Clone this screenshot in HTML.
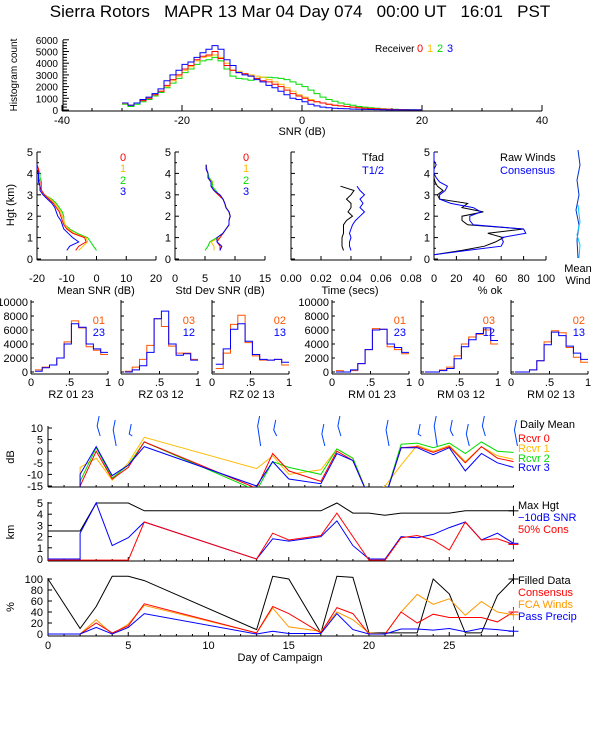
<!DOCTYPE html>
<html><head><meta charset="utf-8"><style>
body{margin:0;background:#fff}
svg{display:block;font-family:"Liberation Sans",sans-serif;font-size:11px}
</style></head><body>
<svg id="s" width="600" height="750" viewBox="0 0 600 750">
<rect width="600" height="750" fill="#fff"/>
<text x="300" y="17" font-size="17" text-anchor="middle" xml:space="preserve">Sierra Rotors   MAPR 13 Mar 04 Day 074   00:00 UT   16:01   PST</text>
<defs>
<clipPath id="cA"><rect x="48" y="420" width="466" height="67"/></clipPath>
<clipPath id="cB"><rect x="48" y="495" width="466" height="68"/></clipPath>
<clipPath id="cC"><rect x="48" y="570" width="466" height="68"/></clipPath>
</defs>
<g id="g" stroke-width="1"></g>
<g>
<text x="0" y="0" transform="translate(17,75) rotate(-90)" text-anchor="middle" font-size="10">Histogram count</text>
<text x="302" y="135" text-anchor="middle">SNR (dB)</text>
<text x="375" y="52" font-size="10">Receiver</text>
<text x="417" y="52" fill="#f00">0</text><text x="427" y="52" fill="#fb0">1</text><text x="437" y="52" fill="#0d0">2</text><text x="447" y="52" fill="#00f">3</text>
</g>
<g>
<text transform="translate(14,205) rotate(-90)" text-anchor="middle">Hgt (km)</text>
<text x="96" y="294" text-anchor="middle">Mean SNR (dB)</text>
<text x="220" y="294" text-anchor="middle">Std Dev SNR (dB)</text>
<text x="350" y="294" text-anchor="middle">Time (secs)</text>
<text x="490" y="294" text-anchor="middle">% ok</text>
<text x="120" y="161" fill="#f00">0</text><text x="120" y="172" fill="#fb0">1</text><text x="120" y="184" fill="#0d0">2</text><text x="120" y="195" fill="#00f">3</text>
<text x="243" y="161" fill="#f00">0</text><text x="243" y="172" fill="#fb0">1</text><text x="243" y="184" fill="#0d0">2</text><text x="243" y="195" fill="#00f">3</text>
<text x="362" y="161">Tfad</text><text x="362" y="174" fill="#00f">T1/2</text>
<text x="500" y="161">Raw Winds</text><text x="500" y="174" fill="#00f">Consensus</text>
<text x="578" y="272" text-anchor="middle">Mean</text><text x="578" y="284" text-anchor="middle">Wind</text>
</g>
<g>
<text transform="translate(14,457) rotate(-90)" text-anchor="middle">dB</text>
<text transform="translate(14,532) rotate(-90)" text-anchor="middle">km</text>
<text transform="translate(14,607) rotate(-90)" text-anchor="middle">%</text>
<text x="280" y="661" text-anchor="middle">Day of Campaign</text>
<text x="520" y="428">Daily Mean</text>
<text x="518" y="442" fill="#f00">Rcvr 0</text><text x="518" y="452" fill="#fb0">Rcvr 1</text><text x="518" y="462" fill="#0d0">Rcvr 2</text><text x="518" y="471" fill="#00f">Rcvr 3</text>
<text x="518" y="509">Max Hgt</text><text x="518" y="521" fill="#00f">−10dB SNR</text><text x="518" y="533" fill="#f00">50% Cons</text>
<text x="518" y="584">Filled Data</text><text x="518" y="596" fill="#f00">Consensus</text><text x="518" y="608" fill="#f90">FCA Winds</text><text x="518" y="620" fill="#00f">Pass Precip</text>
</g>
</svg>
<script>
const snrBinStart = -30;
const snrR0 = [600,400,600,800,1000,1300,1600,2100,2600,3000,3500,3800,4300,4600,4700,5000,4400,3800,3400,3200,3100,2900,2700,2500,2400,2200,2000,1700,1400,1200,1000,800,700,600,500,400,350,300,250,200,150,120,100,80,60,40,30,20,10,5];
const snrR1 = [550,400,600,800,1000,1300,1600,2000,2500,2900,3400,3700,4200,4500,4600,4700,4500,4000,3400,3300,3100,3000,2900,2800,2600,2400,2200,1900,1600,1300,1100,900,700,600,500,400,350,300,250,200,150,120,100,80,60,40,30,20,10,5];
const snrR2 = [500,300,500,700,900,1200,1500,1900,2300,2700,3200,3500,3900,4200,4300,4500,4200,3500,2900,2700,2650,2550,2700,2800,2800,2750,2700,2600,2400,2200,2000,1700,1400,1100,900,750,600,500,400,300,250,200,150,100,80,60,40,30,20,10];
const snrR3 = [600,400,600,900,1100,1400,1800,2500,3000,3400,3900,4100,4500,4900,5200,5500,5200,4300,3800,3200,3000,2900,2600,2400,2100,1900,1600,1300,1000,900,700,500,350,250,200,150,120,100,80,60,50,40,30,20,10,5,5,5,5,5];

const profHgt = [0.4,0.6,0.8,1.0,1.2,1.4,1.6,1.8,2.0,2.2,2.4,2.6,2.8,3.0,3.2,3.4,3.6,3.8,4.0,4.2,4.4];
const meanR0 = [-7,-6,-3.5,-4,-8,-10,-11,-11.5,-12,-12.5,-13.5,-14.5,-16,-17.5,-18.5,-19,-19,-19.5,-19.5,-19.5,-20];
const meanR1 = [-6,-4.5,-3,-3.5,-7.5,-9.5,-10.5,-11,-11.5,-12,-13,-14,-15.5,-17.5,-18.5,-19,-19,-19.5,-19.5,-19.5,-20];
const meanR2 = [0,-1,-2,-3,-6.5,-9,-10.5,-11,-11,-11.5,-12.5,-13.5,-15,-17.5,-18.5,-18.5,-18.5,-19,-19,-19.5,-20];
const meanR3 = [-10,-9,-6,-8,-9.5,-11,-11.5,-12,-13,-13.5,-14,-15,-16.5,-18,-19,-19,-19.5,-19.5,-19.5,-20,-20];
const sdR0 = [7.5,7.5,7,7.5,8,8.5,9,9,9.2,9,8.5,8.3,8,7.2,6.5,6,6,5.5,5.5,5.2,5.2];
const sdR1 = [6.5,6.5,6,7.5,8,8.5,9,9,9.2,9,8.5,8.3,8,7.2,6.5,6,6.2,5.5,5.5,5.2,5.2];
const sdR2 = [5,5.5,5.8,7,8,8.5,9,9,9.2,9,8.5,8.3,8,7.3,6.8,6.2,6.3,5.7,5.5,5.3,5.2];
const sdR3 = [7.5,7.8,7,7,8,8.5,9,9,9.2,9,8.5,8.3,8,7.5,6.5,6,6,5.5,5.5,5.2,5.2];
const timeHgt = [0.4,0.6,0.8,1.0,1.2,1.4,1.6,1.8,2.0,2.2,2.4,2.6,2.8,3.0,3.2,3.4];
const tfad = [.035,.034,.034,.034,.035,.035,.035,.037,.041,.038,.04,.04,.037,.04,.042,.033];
const thalf = [.04,.039,.039,.04,.039,.04,.041,.043,.046,.049,.046,.048,.046,.049,.046,.044];
const okHgt = [0.2,0.4,0.6,0.8,1.0,1.2,1.4,1.6,1.8,2.0,2.2,2.4,2.6,2.8,3.0,3.2,3.4,3.6,3.8,4.0,4.2,4.4,4.6,4.8,5.0];
const okCons = [0,30,60,62,60,82,80,35,32,32,42,35,15,5,5,10,12,5,2,0,0,2,0,0,0];
const okRaw = [0,25,45,55,62,48,80,30,25,25,44,25,30,5,3,8,3,1,0,0,0,0,0,0,0];

const corrTitles = ["RZ  01 23","RZ  03 12","RZ  02 13","RM  01 23","RM  03 12","RM  02 13"];
const corrLegA = ["01","03","02","01","03","02"];
const corrLegB = ["23","12","13","23","12","13"];
const corrRed = [
 [300,700,1000,2000,4300,7300,6300,3600,3100,2500],
 [100,700,1800,3800,7600,6500,3700,2700,2700,1800],
 [500,2700,6800,8100,4200,2300,1700,1700,1800,1000],
 [200,0,200,1200,3200,6200,6100,3600,3200,2600],
 [0,0,300,700,2300,4000,5000,5400,6000,4000],
 [0,0,300,1600,4300,5900,5600,3500,2100,1400]];
const corrBlue = [
 [100,600,1000,2000,4000,6900,6400,4000,3300,2800],
 [0,300,900,2800,7600,8700,4000,2400,2600,1700],
 [1100,3300,6100,6900,4400,2500,1800,1700,1800,1400],
 [0,0,300,1200,3200,6000,6100,4000,3500,2800],
 [0,0,200,500,1900,3600,4600,5500,6300,4500],
 [0,0,300,1600,3900,5700,5200,3700,2700,1800]];

const dbDays = [0,1,2,2,3,4,5,6,13,14,15,17,18,19,20,21,22,23,24,25,26,27,28,29];
const dbR0 = [-20,-20,-20,-15,0,-12,-7,4,-16,-1,-8.5,-13,0,-4,-20,-20,1.5,2,-0.5,2,-5,2,-3,-4.5];
const dbR1 = [-20,-20,-20,-7,-3,-12.5,-5,6,-7.5,-2,-10,-8,1,-3,-20,-15,-6,2.5,0,2.5,-4.5,2,-2,-3.5];
const dbR2 = [-20,-20,-20,-13,1.5,-11.5,-6,4,-17,-4.5,-7,-10,1,-3,-20,-20,3,3.5,1.5,3.5,-1,4,0,-0.5];
const dbR3 = [-20,-20,-20,-10,2,-10.5,-6,2,-15,-4.5,-12,-14,-1,-4,-20,-20,1.5,1.5,-1.5,1.5,-8.5,-1,-5,-7];

const kmDays = [0,2,2,3,4,5,6,13,14,15,17,18,19,20,21,22,23,24,25,26,27,28,29];
const kmMax = [2.5,2.5,2.5,5,5,5,4.3,4.3,4.3,4.3,4.3,5,4.1,4.1,3.9,4.1,4.1,4.1,4.1,4.3,4.3,4.3,4.3];
const kmSnr = [0,0,2.3,5,1.2,1.9,3.3,0,1.8,1.6,2.0,3.4,1.2,0,0,2.0,1.9,2.2,2.8,3.3,1.7,2.3,1.4];
const kmCons = [-0.1,-0.1,-0.1,-0.1,-0.1,-0.1,3.3,0,2.3,1.7,2.1,4.1,2,-0.1,-0.1,1.9,2.1,1.7,0.8,3.3,1.7,1.8,1.3];

const pctDays = [0,2,3,4,5,6,13,14,15,17,18,19,20,21,22,23,24,25,26,27,28,29];
const pctFill = [100,10,50,105,105,97,8,105,100,2,105,103,2,2,2,2,100,73,2,2,70,100];
const pctCons = [0,0,20,2,15,55,2,50,37,2,48,37,0,0,40,20,36,30,30,30,22,40];
const pctFca = [0,0,26,0,18,52,2,47,13,5,40,26,2,0,40,72,54,64,34,59,40,35];
const pctPrecip = [0,0,12,0,12,37,0,5,1,1,37,8,0,0,9,9,7,10,4,10,8,5];

const barbDays = [3,4,5,13,14,17,18,21,23,24,25,26,27,29];

const NS="http://www.w3.org/2000/svg";
const G=document.getElementById('g');
function mk(tag,attrs,parent){const e=document.createElementNS(NS,tag);for(const k in attrs)e.setAttribute(k,attrs[k]);(parent||G).appendChild(e);return e;}
function txt(x,y,s,anchor,fill){const e=mk('text',{x:x,y:y,'text-anchor':anchor||'middle',fill:fill||'#000'});e.textContent=s;return e;}
function ln(x1,y1,x2,y2,c){return mk('line',{x1:x1,y1:y1,x2:x2,y2:y2,stroke:c||'#000'});}
function poly(xs,ys,fx,fy,c,name,clip){
  const pts=xs.map((v,i)=>fx(v).toFixed(1)+','+fy(ys[i]).toFixed(1)).join(' ');
  const e=mk('polyline',{points:pts,fill:'none',stroke:c});
  if(clip)e.setAttribute('clip-path','url(#'+clip+')');
  
  
  return e;
}
function steps(start,w,vals,fx,fy,c,name){
  let d='';
  vals.forEach((v,i)=>{const a=fx(start+i*w),b=fx(start+(i+1)*w),y=fy(v);d+=(i?'L':'M')+a.toFixed(1)+','+y.toFixed(1)+'L'+b.toFixed(1)+','+y.toFixed(1);});
  const e=mk('path',{d:d,fill:'none',stroke:c});
  
  
  return e;
}

const hx=v=>302+v*6, hy=v=>110-v*0.0117;
ln(62,111,542,111);ln(63,40,63,111);
for(let v=0;v<=6000;v+=250){ln(63,hy(v),v%1000?67:69,hy(v));}
for(let v=0;v<=6000;v+=1000){const t=txt(58,hy(v)+4,String(v),'end');t.setAttribute('font-size','10');}
for(let v=-40;v<=40;v+=5){ln(hx(v),111,hx(v),v%20?108:105);}
for(let v=-40;v<=40;v+=20){txt(hx(v),124,String(v));}
steps(snrBinStart,1,snrR2,hx,hy,'#00dd00','snr-hist-rcvr2');
steps(snrBinStart,1,snrR1,hx,hy,'#ffbb00','snr-hist-rcvr1');
steps(snrBinStart,1,snrR0,hx,hy,'#ff0000','snr-hist-rcvr0');
steps(snrBinStart,1,snrR3,hx,hy,'#0000ff','snr-hist-rcvr3');

const py=h=>259-h*21.4;
function profAxes(x0,x1,lo,hi,ticks,fmt,ylab){
  ln(x0,152,x0,260);ln(x0,260,x1,260);
  for(let h=0;h<=5;h+=0.5){ln(x0,py(h),x0+(h%1?2:4),py(h));}
  if(ylab)for(let h=0;h<=5;h++)txt(x0-4,py(h)+4,String(h),'end');
  ticks.forEach(t=>{const x=x0+(t-lo)/(hi-lo)*(x1-x0);ln(x,260,x,256);txt(x,282,fmt(t));});
  return v=>x0+(v-lo)/(hi-lo)*(x1-x0);
}
const f1=profAxes(37,156,-20,20,[-20,-10,0,10,20],String,true);
poly(meanR2,profHgt,f1,py,'#00dd00','mean-snr-rcvr2');
poly(meanR1,profHgt,f1,py,'#ffbb00','mean-snr-rcvr1');
poly(meanR0,profHgt,f1,py,'#ff0000','mean-snr-rcvr0');
poly(meanR3,profHgt,f1,py,'#0000ff','mean-snr-rcvr3');
const f2=profAxes(175,265,0,15,[0,5,10,15],String,true);
poly(sdR2,profHgt,f2,py,'#00dd00','stddev-snr-rcvr2');
poly(sdR1,profHgt,f2,py,'#ffbb00','stddev-snr-rcvr1');
poly(sdR0,profHgt,f2,py,'#ff0000','stddev-snr-rcvr0');
poly(sdR3,profHgt,f2,py,'#0000ff','stddev-snr-rcvr3');
const f3=profAxes(291,411,0,0.08,[0,0.02,0.04,0.06,0.08],v=>v.toFixed(2),false);
poly(tfad,timeHgt,f3,py,'#000','tfad-profile');
poly(thalf,timeHgt,f3,py,'#0000ff','thalf-profile');
const f4=profAxes(434,546,0,100,[0,20,40,60,80,100],String,true);
poly(okRaw,okHgt,f4,py,'#000','raw-winds-pct');
poly(okCons,okHgt,f4,py,'#0000ff','consensus-pct');
const mw=mk('polyline',{points:'578,258 577,240 579,225 576,210 579,195 577,180 580,165 578,150',fill:'none',stroke:'#0033cc'});


const mw2=mk('polyline',{points:'579,258 580,245 577,235 580,222 578,205',fill:'none',stroke:'#00ccff'});



const cy=v=>372-v*0.007;
const cLefts=[31,121,212,332,421,511];
const cW=77;
cLefts.forEach((L,k)=>{
  const fx=v=>L+v*cW;
  ln(L,300,L,374);ln(L,374,L+cW,374);
  for(let v=0;v<=10000;v+=2000){ln(L,cy(v),L+3,cy(v));if(k===0||k===3)txt(L-3,cy(v)+4,String(v),'end');}
  [[0,'0'],[0.5,'.5'],[1,'1']].forEach(t=>{ln(fx(t[0]),374,fx(t[0]),371);txt(fx(t[0]),386,t[1]);});
  txt(L+40,398,corrTitles[k]);
  txt(L+74,324,corrLegA[k],'end','#ff5500');
  txt(L+74,336,corrLegB[k],'end','#0000ff');
  steps(0.05,0.095,corrRed[k],fx,cy,'#ff5500','corr-hist-red-'+k);
  steps(0.05,0.095,corrBlue[k],fx,cy,'#0000ff','corr-hist-blue-'+k);
});

const dx=d=>48+d*16.05;
const ya=v=>486-(v+15)*2.32, yb=v=>559-v*11.2, yc=v=>634-v*0.55;
function tsAxes(top,bot,yf,ticks){
  ln(48,top,48,bot);ln(48,bot,514,bot);
  ticks.forEach(t=>{ln(48,yf(t),52,yf(t));txt(43,yf(t)+4,String(t),'end');});
  for(let d=0;d<=29;d++)ln(dx(d),bot,dx(d),bot-(d%5?2:4));
}
tsAxes(426,487,ya,[10,5,0,-5,-10,-15]);
tsAxes(502,561,yb,[5,4,3,2,1,0]);
tsAxes(578,636,yc,[100,80,60,40,20,0]);
[0,5,10,15,20,25].forEach(d=>txt(dx(d),649,String(d)));
poly(dbDays,dbR1,dx,ya,'#ffbb00','daily-mean-rcvr1','cA');
poly(dbDays,dbR2,dx,ya,'#00dd00','daily-mean-rcvr2','cA');
poly(dbDays,dbR0,dx,ya,'#ff0000','daily-mean-rcvr0','cA');
poly(dbDays,dbR3,dx,ya,'#0000ff','daily-mean-rcvr3','cA');
poly(kmDays,kmMax,dx,yb,'#000','max-height-line','cB');
poly(kmDays,kmSnr,dx,yb,'#0000ff','snr-10db-height-line','cB');
poly(kmDays,kmCons,dx,yb,'#ff0000','cons-50pct-height-line','cB');
poly(pctDays,pctFill,dx,yc,'#000','filled-data-line','cC');
poly(pctDays,pctFca,dx,yc,'#ff9900','fca-winds-line','cC');
poly(pctDays,pctCons,dx,yc,'#ff0000','consensus-line','cC');
poly(pctDays,pctPrecip,dx,yc,'#0000ff','pass-precip-line','cC');
[[kmMax[kmMax.length-1],yb,'#000'],[kmSnr[kmSnr.length-1],yb,'#00f'],[kmCons[kmCons.length-1],yb,'#f00'],
 [pctFill[pctFill.length-1],yc,'#000'],[pctCons[pctCons.length-1],yc,'#f00'],[pctFca[pctFca.length-1],yc,'#f90'],[pctPrecip[pctPrecip.length-1],yc,'#00f']].forEach(m=>{
  const x=dx(29),y=m[1](m[0]);ln(x-5,y,x+5,y,m[2]);ln(x,y-5,x,y+5,m[2]);});
barbDays.forEach((d,i)=>{
  const x=dx(d)+3;
  const b=mk('polyline',{points:`${x},${416+(i%3)*4} ${x-2},${426+(i%3)*4} ${x+1},${436+(i%2)*10}`,fill:'none',stroke:'#0044ff'});
  
  
});
</script>
</body></html>
